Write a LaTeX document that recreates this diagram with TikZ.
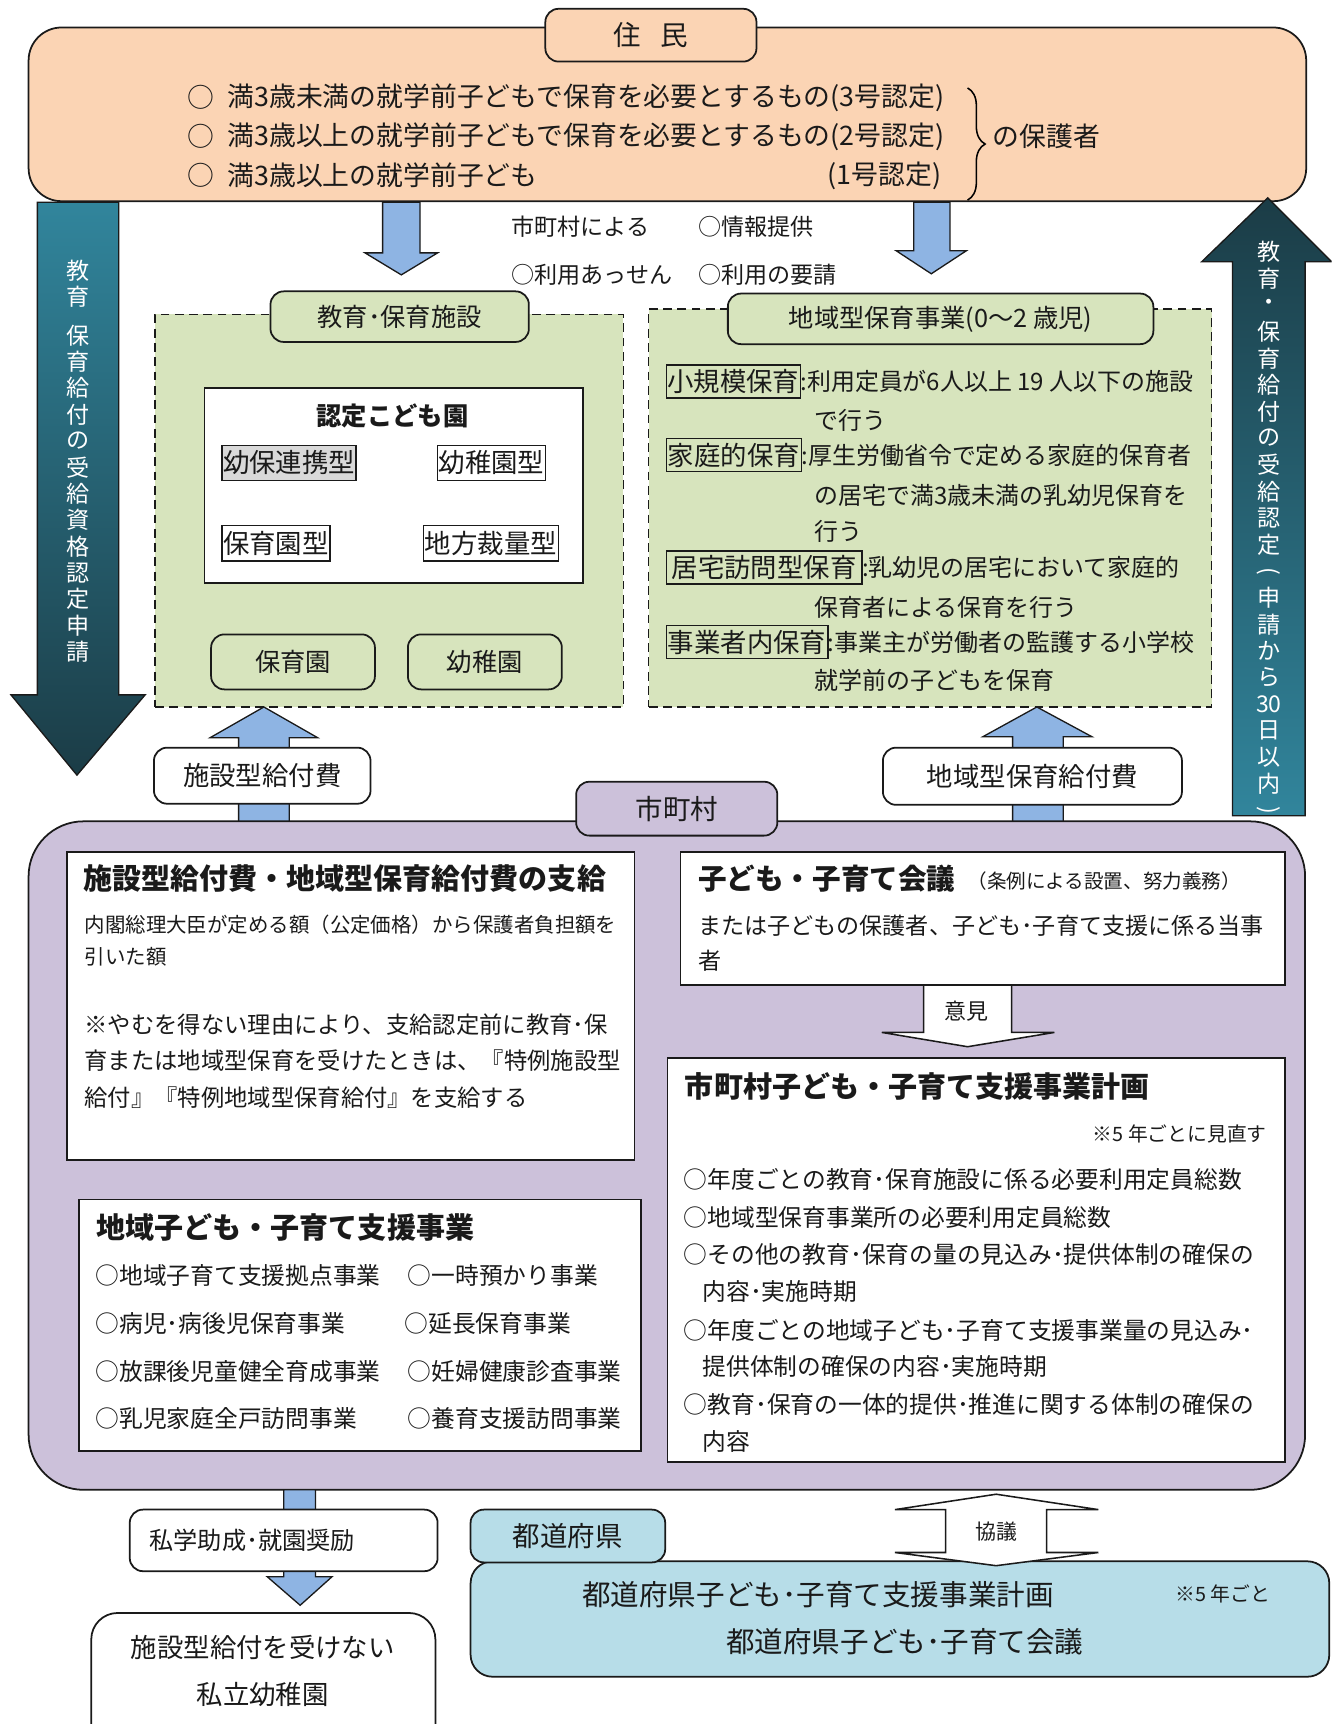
\documentclass[tikz,border=0pt]{standalone}
\usepackage{fontspec}
\setmainfont{Noto Sans CJK JP}
\usetikzlibrary{fit,decorations.pathreplacing}
\definecolor{peach}{HTML}{FBD4B4}
\definecolor{sage}{HTML}{D7E4BD}
\definecolor{lav}{HTML}{CCC1DA}
\definecolor{skyb}{HTML}{B7DDE8}
\definecolor{arrb}{HTML}{8EB4E3}
\definecolor{tealL}{HTML}{31859C}
\definecolor{tealD}{HTML}{1B3C46}
\definecolor{greyb}{HTML}{D9D9D9}
\definecolor{ink}{HTML}{1A1A1A}
\newcommand{\fsz}[1]{\fontsize{#1pt}{#1pt}\selectfont}
\begin{document}
\begin{tikzpicture}[x=0.5pt,y=-0.5pt,line width=0.8pt,
  every node/.style={inner sep=0pt,outer sep=0pt,text=ink},
  area/.style={draw=ink,inner sep=0pt},
  dasharea/.style={draw=ink,dash pattern=on 4pt off 2.5pt,fill=sage,line width=0.7pt,inner sep=0pt},
  tab/.style={draw=ink,rounded corners=6pt,inner sep=0pt},
  tl/.style={anchor=west},
  ttl/.style={anchor=west,font=\bfseries\fsz{13.2}},
  blk/.style={draw=ink,line width=0.6pt,fill=arrb},
  wblk/.style={draw=ink,line width=0.7pt,fill=white},
  vt/.style={font=\fsz{10.5},text=white},
  vtr/.style={font=\fsz{10.5},text=white},
  tag/.style={draw=ink,inner sep=0pt,line width=0.7pt}
]
\clip (0,0) rectangle (1211,1568);
\fill[white] (0,0) rectangle (1211,1568);

% ---------- residents ----------
\node[area,fill=peach,rounded corners=15pt,fit={(26,25)(1188,183)}] (res) {};
\node[tab,fill=peach,fit={(496,8)(688,56)}] (restab) {};
\node[font=\fsz{12.5}] (restxt) at (restab.center) {住\hspace{0.7em}民};
\begin{scope}[every node/.append style={font=\fsz{12.2}}]
\node (o1) at (183,88.5) {○};
\node[tl] (l1) at (207,88.5) {満3歳未満の就学前子どもで保育を必要とするもの(3号認定)};
\node (o2) at (183,124.3) {○};
\node[tl] (l2) at (207,124.3) {満3歳以上の就学前子どもで保育を必要とするもの(2号認定)};
\node (o3) at (183,159.7) {○};
\node[tl] (l3) at (207,159.7) {満3歳以上の就学前子ども};
\node[anchor=east] (l3b) at (856,159.7) {(1号認定)};
\node[tl] (guard) at (903,124) {の保護者};
\end{scope}
\draw[decorate,decoration={brace,amplitude=8pt},line width=0.7pt] (880,80) -- (880,182);

% ---------- teal arrows ----------
\path[draw=ink,line width=0.6pt,top color=tealL,bottom color=tealD]
  (34,184) -- (108,184) -- (108,632) -- (132,632) -- (70,705) -- (10,632) -- (34,632) -- cycle;
\path[draw=ink,line width=0.6pt,top color=tealD,bottom color=tealL]
  (1121,742) -- (1121,238) -- (1093,238) -- (1153,180) -- (1211,238) -- (1187,238) -- (1187,742) -- cycle;
\foreach \c [count=\i] in {教,育}
  \node[vt] (lv\i) at (71,{246+24*(\i-1)}) {\c};
\foreach \c [count=\i] in {保,育,給,付,の,受,給,資,格,認,定,申,請}
  \node[vt] (lw\i) at (71,{305+24*(\i-1)}) {\c};
\foreach \c [count=\i] in {教,育,・,保,育,給,付,の,受,給,認,定}
  \node[vtr] (rv\i) at (1154,{229+24.2*(\i-1)}) {\c};
\node[vtr,rotate=-90] (rpo) at (1154,{229+24.2*12}) {(};
\foreach \c [count=\i from 14] in {申,請,か,ら,30,日,以,内}
  \node[vtr] (rv\i) at (1154,{229+24.2*(\i-1)}) {\c};
\node[vtr,rotate=-90] (rpc) at (1154,{229+24.2*21}) {)};

% ---------- blue arrows down ----------
\path[blk] (348,184) -- (382,184) -- (382,230) -- (398,230) -- (365,250) -- (332,230) -- (348,230) -- cycle;
\path[blk] (831,184) -- (864,184) -- (864,228) -- (879,228) -- (847,249) -- (815,228) -- (831,228) -- cycle;
\begin{scope}[every node/.append style={font=\fsz{10.5},anchor=west}]
\node (m1) at (465,206) {市町村による};
\node (m2) at (635,206) {○情報提供};
\node (m3) at (465,250) {○利用あっせん};
\node (m4) at (635,250) {○利用の要請};
\end{scope}

% ---------- education facilities ----------
\node[dasharea,fit={(141,286)(567,643)}] (fac) {};
\node[tab,fill=sage,fit={(246,265)(481,311)}] (factab) {};
\node[font=\fsz{11.5}] at (factab.center) {教育･保育施設};
\node[area,fill=white,fit={(186,353)(530,530)}] (nintei) {};
\node[font=\bfseries\fsz{11.5}] (ninteit) at (357,378) {認定こども園};
\node[tag,fill=greyb,fit={(202,405)(324,437)}] (t1) {};
\node[font=\fsz{12}] at (t1.center) {幼保連携型};
\node[tag,fill=white,fit={(398,405)(496,437)}] (t2) {};
\node[font=\fsz{12}] at (t2.center) {幼稚園型};
\node[tag,fill=white,fit={(202,478)(300,510)}] (t3) {};
\node[font=\fsz{12}] at (t3.center) {保育園型};
\node[tag,fill=white,fit={(385,478)(508,510)}] (t4) {};
\node[font=\fsz{12}] at (t4.center) {地方裁量型};
\node[tab,fill=sage,fit={(192,577)(341,627)}] (hoiku) {};
\node[font=\fsz{11.5}] at (hoiku.center) {保育園};
\node[tab,fill=sage,fit={(371,577)(511,627)}] (yochi) {};
\node[font=\fsz{11.5}] at (yochi.center) {幼稚園};

% ---------- community childcare ----------
\node[dasharea,fit={(590,281)(1102,643)}] (com) {};
\node[tab,fill=sage,fit={(662,267)(1049,313)}] (comtab) {};
\node[font=\fsz{11.5}] at (comtab.center) {地域型保育事業(0〜2 歳児)};
\node[tag,fit={(606,332)(728,362)}] (k1) {};
\node[font=\fsz{12}] at (k1.center) {小規模保育};
\node[tag,fit={(606,399)(729,429)}] (k2) {};
\node[font=\fsz{12}] at (k2.center) {家庭的保育};
\node[tag,fit={(606,501)(784,531)}] (k3) {};
\node[font=\fsz{12}] at (k3.center) {居宅訪問型保育};
\node[tag,fit={(606,569)(753,599)}] (k4) {};
\node[font=\fsz{12}] at (k4.center) {事業者内保育};
\begin{scope}[every node/.append style={font=\fsz{10.9},anchor=west}]
\node (d1) at (k1.east) {:利用定員が6人以上 19 人以下の施設};
\node (d1b) at (741,382) {で行う};
\node (d2) at (k2.east) {:厚生労働省令で定める家庭的保育者};
\node (d2b) at (741,451) {の居宅で満3歳未満の乳幼児保育を};
\node (d2c) at (741,483) {行う};
\node (d3) at (k3.east) {:乳幼児の居宅において家庭的};
\node (d3b) at (741,552) {保育者による保育を行う};
\node (d4) at (k4.east) {:事業主が労働者の監護する小学校};
\node (d4b) at (741,619) {就学前の子どもを保育};
\end{scope}

% ---------- benefit arrows up ----------
\path[blk] (240,643) -- (289,671) -- (263,671) -- (263,750) -- (217,750) -- (217,671) -- (191,671) -- cycle;
\path[blk] (943,643) -- (993,670) -- (967,670) -- (967,750) -- (921,750) -- (921,670) -- (894,670) -- cycle;
\node[tab,fill=white,fit={(140,680)(337,731)}] (kyu1) {};
\node[font=\fsz{12}] at (kyu1.center) {施設型給付費};
\node[tab,fill=white,fit={(803,680)(1075,732)}] (kyu2) {};
\node[font=\fsz{12}] at (kyu2.center) {地域型保育給付費};

% ---------- municipality ----------
\node[area,fill=lav,rounded corners=25pt,fit={(26,747)(1187,1355)}] (city) {};
\node[tab,fill=lav,fit={(524,711)(707,760)}] (citytab) {};
\node[font=\fsz{12.5}] at (citytab.center) {市町村};

\node[area,fill=white,fit={(61,775)(577,1055)}] (boxA) {};
\node[ttl] (aT) at (76,799) {施設型給付費・地域型保育給付費の支給};
\node[tl,font=\fsz{9.3}] (a1) at (77,841) {内閣総理大臣が定める額（公定価格）から保護者負担額を};
\node[tl,font=\fsz{9.3}] (a2) at (77,870) {引いた額};
\node[tl,font=\fsz{10.6}] (a3) at (77,932) {※やむを得ない理由により、支給認定前に教育･保};
\node[tl,font=\fsz{10.6}] (a4) at (77,965) {育または地域型保育を受けたときは、『特例施設型};
\node[tl,font=\fsz{10.6}] (a5) at (77,998) {給付』『特例地域型保育給付』を支給する};

\node[area,fill=white,fit={(619,775)(1169,896)}] (boxB) {};
\node[ttl,font=\bfseries\fsz{13}] (bT) at (635,799) {子ども・子育て会議};
\node[tl,font=\fsz{8.9}] (bS) at (880,801) {（条例による設置、努力義務）};
\node[tl,font=\fsz{10.5}] (b1) at (635,842) {または子どもの保護者、子ども･子育て支援に係る当事};
\node[tl,font=\fsz{10.5}] (b2) at (635,874) {者};

\path[wblk] (840,896) -- (920,896) -- (920,939) -- (959,939) -- (880,952) -- (802,939) -- (840,939) -- cycle;
\node[font=\fsz{10}] (iken) at (879,920) {意見};

\node[area,fill=white,fit={(607,962)(1169,1330)}] (boxC) {};
\node[ttl] (cT) at (623,988) {市町村子ども・子育て支援事業計画};
\node[anchor=east,font=\fsz{9}] (cN) at (1152,1031) {※5 年ごとに見直す};
\begin{scope}[every node/.append style={font=\fsz{10.8},anchor=west}]
\node (c1) at (622,1073) {○年度ごとの教育･保育施設に係る必要利用定員総数};
\node (c2) at (622,1107) {○地域型保育事業所の必要利用定員総数};
\node (c3) at (622,1141) {○その他の教育･保育の量の見込み･提供体制の確保の};
\node (c4) at (639,1175) {内容･実施時期};
\node (c5) at (622,1210) {○年度ごとの地域子ども･子育て支援事業量の見込み･};
\node (c6) at (639,1243) {提供体制の確保の内容･実施時期};
\node (c7) at (622,1277) {○教育･保育の一体的提供･推進に関する体制の確保の};
\node (c8) at (639,1311) {内容};
\end{scope}

\node[area,fill=white,fit={(72,1091)(583,1320)}] (boxD) {};
\node[ttl] (dT) at (88,1116) {地域子ども・子育て支援事業};
\begin{scope}[every node/.append style={font=\fsz{10.8},anchor=west}]
\node (e1) at (87,1160) {○地域子育て支援拠点事業};
\node (e2) at (371,1160) {○一時預かり事業};
\node (e3) at (87,1204) {○病児･病後児保育事業};
\node (e4) at (368,1204) {○延長保育事業};
\node (e5) at (87,1247) {○放課後児童健全育成事業};
\node (e6) at (371,1247) {○妊婦健康診査事業};
\node (e7) at (87,1290) {○乳児家庭全戸訪問事業};
\node (e8) at (371,1290) {○養育支援訪問事業};
\end{scope}

% ---------- private kindergartens ----------
\path[blk] (258,1355) -- (287,1355) -- (287,1434) -- (302,1434) -- (273,1460) -- (243,1434) -- (258,1434) -- cycle;
\node[tab,fill=white,fit={(118,1373)(398,1429)}] (shigaku) {};
\node[tl,font=\fsz{11}] at (136,1401) {私学助成･就園奨励};
\node[tab,fill=white,rounded corners=12pt,fit={(83,1467)(396,1600)}] (private) {};
\node[font=\fsz{12}] (pv1) at (239,1498) {施設型給付を受けない};
\node[font=\fsz{12}] (pv2) at (239,1541) {私立幼稚園};

% ---------- prefecture ----------
\node[area,fill=skyb,rounded corners=10pt,fit={(428,1420)(1209,1525)}] (pref) {};
\node[tab,fill=skyb,fit={(428,1373)(605,1421)}] (preftab) {};
\node[font=\fsz{12.5}] at (preftab.center) {都道府県};
\node[font=\fsz{13}] (p1) at (744,1450) {都道府県子ども･子育て支援事業計画};
\node[font=\fsz{13}] (p2) at (823,1493) {都道府県子ども･子育て会議};
\node[tl,font=\fsz{9}] (pN) at (1069,1450) {※5 年ごと};

\path[wblk] (906,1359) -- (999,1373) -- (952,1373) -- (952,1412) -- (999,1412) -- (906,1424)
  -- (814,1412) -- (860,1412) -- (860,1373) -- (814,1373) -- cycle;
\node[font=\fsz{9.5}] (kyogi) at (906,1393) {協議};
\end{tikzpicture}
\end{document}
